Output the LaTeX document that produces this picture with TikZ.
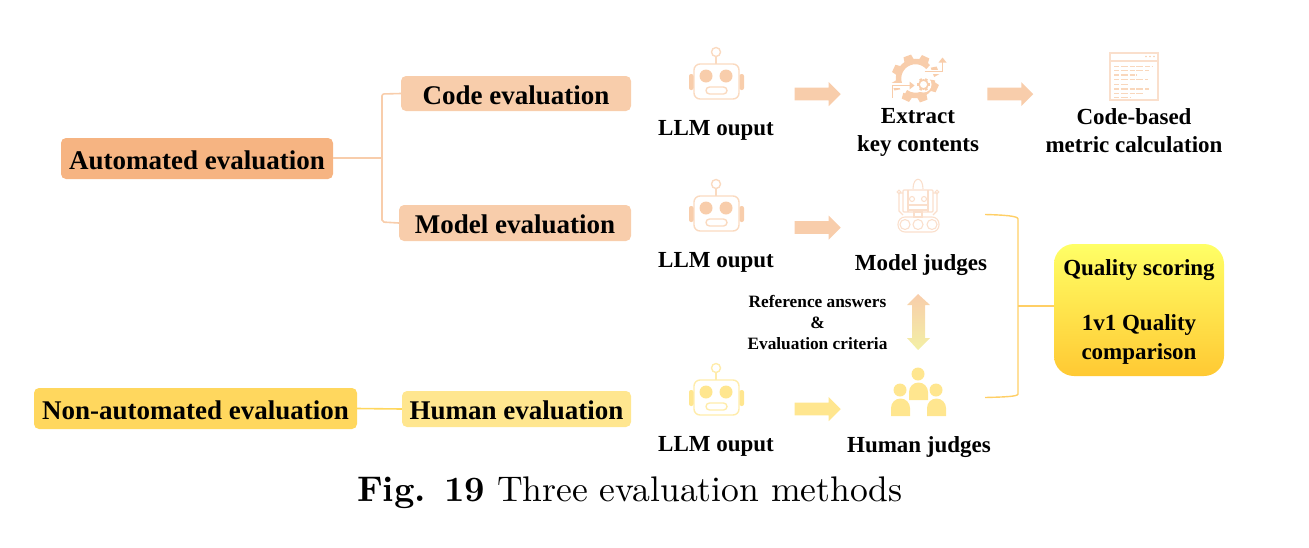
\documentclass[tikz,border=0pt]{standalone}
\usepackage{fontspec}
\newfontfamily\tnr{Liberation Serif}
\usetikzlibrary{shapes.arrows,calc}
\definecolor{autoC}{HTML}{F6B482}
\definecolor{peach}{HTML}{F8CDAB}
\definecolor{paleP}{HTML}{FADFCC}
\definecolor{gold}{HTML}{FFD75E}
\definecolor{paleY}{HTML}{FFE68F}
\definecolor{brk}{HTML}{FFCF66}
\definecolor{dmid}{HTML}{F6E3A0}
\definecolor{dbot}{HTML}{F3F0A5}
\definecolor{qtop}{HTML}{FFFF66}
\definecolor{qmid}{HTML}{FFF258}
\definecolor{qbot}{HTML}{FFC933}
\tikzset{
  box/.style={rounded corners=5pt,inner sep=0pt,font=\tnr\bfseries\fontsize{27}{28}\selectfont,text=black,text height=21pt,text depth=0pt},
  lab/.style={inner sep=0pt,align=center,font=\tnr\bfseries\fontsize{23}{28}\selectfont,text=black},
  smalllab/.style={inner sep=0pt,align=center,font=\tnr\bfseries\fontsize{17.3}{21}\selectfont,text=black},
  blockarrow/.style={single arrow,fill=#1,draw=none,minimum width=24pt,minimum height=46pt,
    single arrow head extend=5.5pt,single arrow head indent=0pt,inner sep=0pt},
  robotpic/.pic={
    \draw[#1!75!white,line width=1.4pt] (-1,-30) circle[radius=4.5];
    \draw[#1!75!white,line width=1.4pt] (-1,-25.5) -- (-1,-18);
    \draw[#1!75!white,line width=1.4pt,rounded corners=6pt] (-23,-18) rectangle (22,17);
    \fill[#1,rounded corners=2pt] (-28,-8) rectangle (-23.5,8);
    \fill[#1,rounded corners=2pt] (22.5,-8) rectangle (27,8);
    \fill[#1] (-11,-6) circle[radius=6.5] (9,-6) circle[radius=6.5];
    \draw[#1!75!white,line width=1.4pt,rounded corners=3.5pt] (-11,5) rectangle (10,12);
  },
  gearpic/.pic={
    \foreach \a in {20,65,...,335}{\fill[peach,rotate=\a] (18,-5) -- (24,-4) -- (24,4) -- (18,5) -- cycle;}
    \draw[peach,line width=5.5pt] (150:17) arc[start angle=150,end angle=318,radius=17];
    \draw[peach,line width=5.5pt] (5:17) arc[start angle=5,end angle=125,radius=17];
    \fill[white] (-25,4.5) rectangle (3,9.5);
    \fill[white] (6,-9) rectangle (29,-5);
    \draw[peach,line width=1.4pt] (-23,19) -- (-23,7) -- (-3,7);
    \fill[peach] (-1,7) -- (-6,3) -- (-6,11) -- cycle;
    \draw[peach,line width=1.4pt] (9,-7) -- (27,-7) -- (27,-17);
    \fill[peach] (27,-21) -- (23,-16) -- (31,-16) -- cycle;
    \fill[white] (8,6) circle[radius=8];
    \draw[peach,line width=1.6pt] (8,6) circle[radius=4.5];
    \foreach \a in {0,60,...,300}{\fill[peach,rotate around={\a:(8,6)}] (12.5,4.7) rectangle (14.5,7.3);}
  },
  codepic/.pic={
    \draw[paleP,line width=1.8pt] (-24,-23.5) rectangle (24,23.5);
    \draw[paleP,line width=1.5pt] (-24,-15.5) -- (24,-15.5);
    \foreach \x in {12,16,20}{\fill[peach] (\x,-20) circle[radius=.8];}
    \foreach \yy/\xa/\xb in {-10/-20/19,-6/-20/15,-1.5/-20/3,3/-20/14,8/-20/-6,12.5/-20/15,17/-20/9,21/-20/-4}{
      \draw[peach!80!white,line width=1.1pt,dash pattern=on 5pt off 1.5pt on 7pt off 2pt] (\xa,\yy) -- (\xb,\yy);}
  },
  judgepic/.pic={
    \begin{scope}[paleP,line width=1.1pt]
      \draw (-5,-18) .. controls (-5,-31) and (5,-31) .. (5,-18);
      \draw[rounded corners=1pt] (-15,-17) rectangle (15,5);
      \draw (-10,-17) -- (-10,5) (10,-17) -- (10,5);
      \draw (-6,-8) circle[radius=2.5] (6,-8) circle[radius=2.5];
      \draw (-10,-2) rectangle (10,3);
      \draw (-15,-14) -- (-19,-14) -- (-19,4) -- (-15,8) (15,-14) -- (19,-14) -- (19,4) -- (15,8);
      \draw (-19,-15) circle[radius=1.8] (19,-15) circle[radius=1.8];
      \draw (-4,5) rectangle (4,10);
      \draw[rounded corners=7pt] (-20,10) rectangle (21,25);
      \draw (-13,17.5) circle[radius=5] (0,17.5) circle[radius=5] (14,17.5) circle[radius=5];
    \end{scope}
  },
  humanpic/.pic={
    \fill[paleY] (0,-25) circle[radius=6.5] (-18,-9) circle[radius=6.5] (18,-9) circle[radius=6.5];
    \fill[paleY] (-9,1) -- (-9,-7) arc[start angle=180,end angle=360,radius=9.5] -- (10,1) -- cycle;
    \fill[paleY] (-27,17) -- (-27,9) arc[start angle=180,end angle=360,radius=9.5] -- (-8,17) -- cycle;
    \fill[paleY] (9,17) -- (9,9) arc[start angle=180,end angle=360,radius=9.5] -- (28,17) -- cycle;
  },
}
\begin{document}
\begin{tikzpicture}[x=1pt,y=-1pt]
\useasboundingbox (0,0) rectangle (1309,547);
% left boxes
\node[box,fill=autoC,minimum width=272pt,minimum height=41pt] (auto) at (197,158.5) {Automated evaluation};
\node[box,fill=peach,minimum width=230pt,minimum height=35pt] (code) at (516,93.5) {Code evaluation};
\node[box,fill=peach,minimum width=232pt,minimum height=36pt] (model) at (515,223) {Model evaluation};
\node[box,fill=gold,minimum width=323pt,minimum height=41pt] (non) at (195.5,408.5) {Non-automated evaluation};
\node[box,fill=paleY,minimum width=229pt,minimum height=36pt] (human) at (516.5,409) {Human evaluation};
% left connectors
\coordinate (jl) at (382,158);
\draw[peach,line width=1.6pt] (auto.east |- jl) -- (jl);
\draw[peach,line width=1.6pt,rounded corners=2pt] (code.west) -- (382,94) -- (382,222) -- (model.west);
\draw[gold,line width=1.6pt] (non.east) -- (human.west);
% robots
\pic at (717,82) {robotpic=peach};
\pic at (717,214) {robotpic=peach};
\pic at (717,398) {robotpic=paleY};
\node[lab] (l1) at (716,130.5) {LLM ouput};
\node[lab] (l2) at (716,262.5) {LLM ouput};
\node[lab] (l3) at (716,446.5) {LLM ouput};
% block arrows
\node[blockarrow=peach] (a1) at (814.5,94) {\rule{0pt}{12.5pt}};
\node[blockarrow=peach] (a2) at (1007,94) {\rule{0pt}{12.5pt}};
\node[blockarrow=peach] (a3) at (814.5,227.5) {\rule{0pt}{12.5pt}};
\node[blockarrow=paleY] (a4) at (814.5,409) {\rule{0pt}{12.5pt}};
% icons
\pic at (915.5,78.5) {gearpic};
\pic at (1134,76.5) {codepic};
\pic at (918,207) {judgepic};
\pic at (918,399) {humanpic};
% labels
\node[lab] (ext) at (918,132) {Extract\\key contents};
\node[lab] (cb) at (1134,131) {Code-based\\metric calculation};
\node[lab] (mj) at (921,265) {Model judges};
\node[lab] (hj) at (919,447.5) {Human judges};
\node[smalllab] (ref) at (817.5,323) {Reference answers\\\&\\Evaluation criteria};
% double arrow
\shade[top color=peach,middle color=dmid,bottom color=dbot]
  (918,294) -- (930,305) -- (925,305) -- (925,338) -- (930,338) -- (918,350) -- (907,338) -- (912,338) -- (912,305) -- (907,305) -- cycle;
% quality box
\node[inner sep=0pt,minimum width=170pt,minimum height=132pt,rounded corners=20pt,
  top color=qtop,middle color=qmid,bottom color=qbot,shading angle=0,
  align=center,font=\tnr\bfseries\fontsize{23}{28.5}\selectfont] (q) at (1139,310) {\rule{0pt}{20pt}Quality scoring\\[26.5pt]1v1 Quality\\comparison};
% bracket
\coordinate (b1) at (985,214.5);
\coordinate (b2) at (985,397.5);
\draw[brk,line width=1.4pt] (b1) .. controls (1005,215) and (1018,216) .. (1018,219) -- (1018,394) .. controls (1018,396.5) and (1005,397) .. (b2);
\draw[brk,line width=1.4pt] (1018,306) -- (q.west |- 0,306);
% caption
\node[inner sep=0pt,scale=3.56,transform shape,text=black] (cap) at (630,493) {\textbf{Fig. 19} Three evaluation methods};
\end{tikzpicture}
\end{document}
